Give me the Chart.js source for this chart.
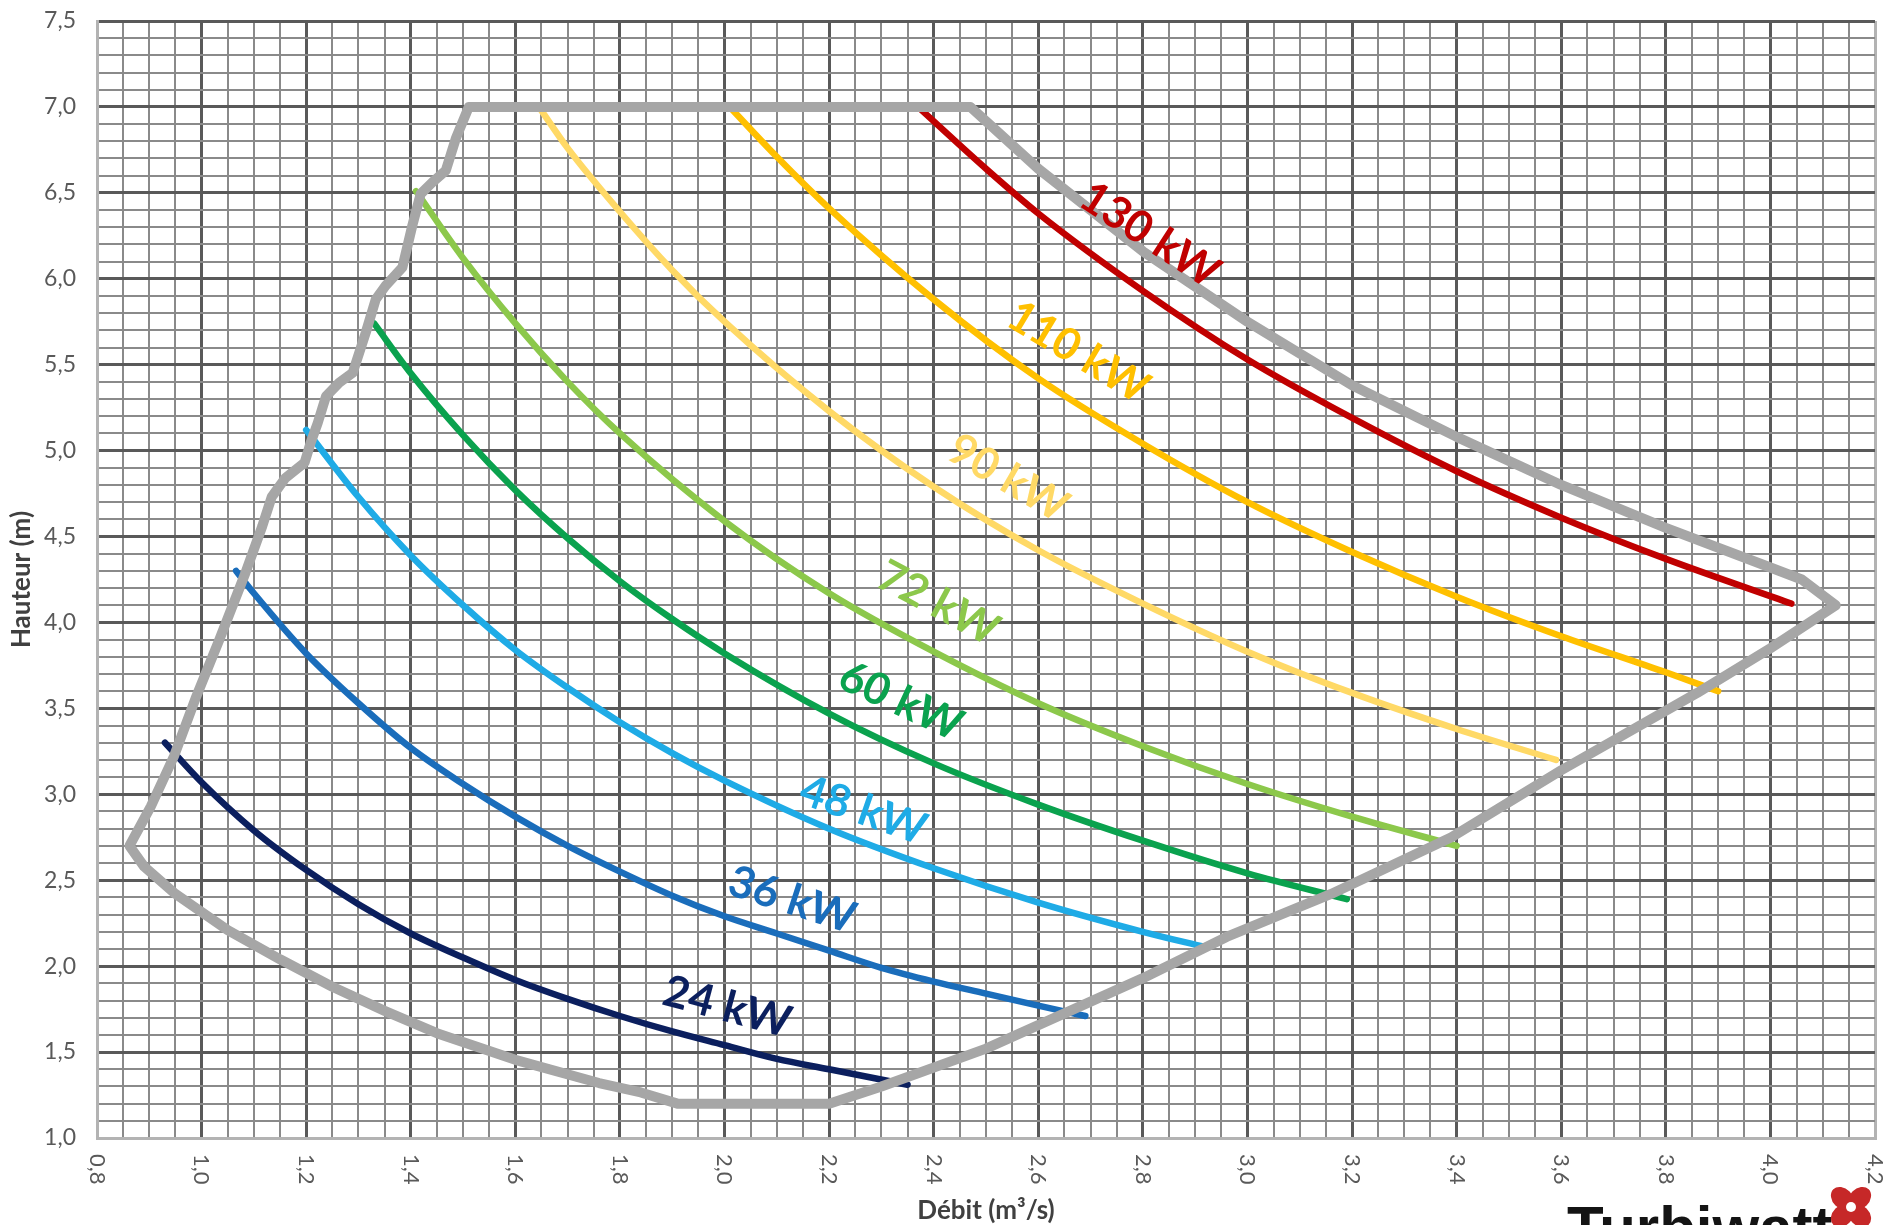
<!DOCTYPE html>
<html>
<head>
<meta charset="utf-8">
<script src="https://cdn.jsdelivr.net/npm/chart.js@4.4.1/dist/chart.umd.min.js"></script>
<style>
  html, body { margin: 0; padding: 0; background: #ffffff; overflow: hidden; }
  canvas { display: block; }
</style>
</head>
<body>
<canvas id="chart" width="1885" height="1225"></canvas>
<script>
// ---- Axis tick labels ----
const flowTicks = [0.8, 1.0, 1.2, 1.4, 1.6, 1.8, 2.0, 2.2, 2.4, 2.6, 2.8, 3.0, 3.2, 3.4, 3.6, 3.8, 4.0, 4.2];
const headTicks = [1.0, 1.5, 2.0, 2.5, 3.0, 3.5, 4.0, 4.5, 5.0, 5.5, 6.0, 6.5, 7.0, 7.5];

// ---- Power curves: flow Q (m3/s) and head H (m) ----
const kw24Q = [0.93, 1.00, 1.10, 1.20, 1.30, 1.40, 1.50, 1.60, 1.70, 1.80, 1.90, 2.00, 2.10, 2.20, 2.35];
const kw24H = [3.30, 3.07, 2.79, 2.56, 2.36, 2.19, 2.05, 1.92, 1.81, 1.71, 1.62, 1.54, 1.46, 1.40, 1.31];

const kw36Q = [1.066, 1.10, 1.20, 1.30, 1.40, 1.50, 1.60, 1.70, 1.80, 1.90, 2.00, 2.10, 2.20, 2.30, 2.40, 2.50, 2.60, 2.69];
const kw36H = [4.30, 4.17, 3.82, 3.53, 3.27, 3.06, 2.87, 2.70, 2.55, 2.41, 2.29, 2.19, 2.09, 1.99, 1.91, 1.84, 1.77, 1.71];

const kw48Q = [1.20, 1.30, 1.40, 1.50, 1.60, 1.70, 1.80, 1.90, 2.00, 2.20, 2.40, 2.60, 2.80, 2.92];
const kw48H = [5.12, 4.73, 4.39, 4.10, 3.84, 3.62, 3.42, 3.24, 3.08, 2.80, 2.57, 2.37, 2.20, 2.11];

const kw60Q = [1.33, 1.40, 1.50, 1.60, 1.70, 1.80, 1.90, 2.00, 2.20, 2.40, 2.60, 2.80, 3.00, 3.19];
const kw60H = [5.74, 5.45, 5.09, 4.77, 4.49, 4.24, 4.02, 3.82, 3.47, 3.18, 2.94, 2.73, 2.54, 2.39];

const kw72Q = [1.41, 1.50, 1.60, 1.70, 1.80, 2.00, 2.20, 2.40, 2.60, 2.80, 3.00, 3.20, 3.40];
const kw72H = [6.51, 6.12, 5.74, 5.40, 5.10, 4.59, 4.17, 3.83, 3.53, 3.28, 3.06, 2.87, 2.70];

const kw90Q = [1.645, 1.70, 1.80, 1.90, 2.00, 2.20, 2.40, 2.60, 2.80, 3.00, 3.20, 3.40, 3.59];
const kw90H = [7.00, 6.76, 6.39, 6.05, 5.75, 5.23, 4.79, 4.42, 4.11, 3.83, 3.59, 3.38, 3.20];

const kw110Q = [2.01, 2.10, 2.20, 2.40, 2.60, 2.80, 3.00, 3.20, 3.40, 3.60, 3.80, 3.90];
const kw110H = [7.00, 6.71, 6.41, 5.88, 5.42, 5.04, 4.70, 4.41, 4.15, 3.92, 3.71, 3.60];

const kw130Q = [2.37, 2.50, 2.60, 2.80, 3.00, 3.20, 3.40, 3.60, 3.80, 4.04];
const kw130H = [7.00, 6.64, 6.38, 5.93, 5.53, 5.19, 4.88, 4.61, 4.37, 4.11];

// ---- Operating envelope (closed outline) ----
const envQ = [2.00, 2.47, 2.60, 2.80, 3.00, 3.20, 3.40, 3.60, 3.80, 4.00, 4.06, 4.125,
              4.00, 3.86, 3.60, 3.39, 3.16, 2.96, 2.80, 2.50, 2.30, 2.20,
              1.91, 1.84, 1.76, 1.60, 1.45, 1.35, 1.25, 1.15, 1.05, 0.95, 0.89, 0.862,
              0.903, 0.947, 0.99, 1.034, 1.084, 1.116, 1.134, 1.16, 1.197, 1.209, 1.222, 1.238,
              1.263, 1.289, 1.314, 1.333, 1.352, 1.384, 1.403, 1.419, 1.441, 1.467, 1.486, 1.511, 2.00];
const envH = [7.00, 7.00, 6.64, 6.16, 5.75, 5.38, 5.08, 4.80, 4.55, 4.32, 4.25, 4.10,
              3.85, 3.59, 3.14, 2.75, 2.42, 2.17, 1.93, 1.52, 1.30, 1.20,
              1.20, 1.265, 1.32, 1.455, 1.61, 1.74, 1.88, 2.04, 2.21, 2.42, 2.58, 2.70,
              2.93, 3.22, 3.57, 3.90, 4.29, 4.56, 4.73, 4.84, 4.93, 5.05, 5.16, 5.317,
              5.395, 5.453, 5.687, 5.88, 5.96, 6.066, 6.31, 6.494, 6.56, 6.63, 6.815, 7.00, 7.00];

// ---- Curve captions: text, anchor (Q, H), angle in degrees ----
const captionText  = ['24 kW', '36 kW', '48 kW', '60 kW', '72 kW', '90 kW', '110 kW', '130 kW'];
const captionQ     = [2.005, 2.129, 2.265, 2.337, 2.408, 2.542, 2.676, 2.813];
const captionH     = [1.761, 2.384, 2.907, 3.542, 4.112, 4.840, 5.573, 6.254];
const captionAngle = [15, 18, 19, 25, 28, 30, 31, 33];

const curveColors = ['#0b1f5e', '#1a6dbb', '#1fabe6', '#0aa24e', '#8cc84b', '#ffd966', '#ffc000', '#c00000'];
const envelopeColor = '#a6a6a6';

const FONT = 'Lato, "Open Sans", "DejaVu Sans", sans-serif';

function fmt(v) { return v.toFixed(1).replace('.', ','); }
function inList(v, list) { return list.some(t => Math.abs(t - v) < 1e-6); }
function gridSteps(min, max, step) {
  const out = [];
  const n = Math.round((max - min) / step);
  for (let i = 0; i <= n; i++) out.push(+(min + i * step).toFixed(4));
  return out;
}
function pairs(qs, hs) { return qs.map((q, i) => ({ x: q, y: hs[i] })); }

const xGrid = gridSteps(0.8, 4.2, 0.05);
const yGrid = gridSteps(1.0, 7.5, 0.1);

const MINOR_COLOR = '#8a8a8a', MAJOR_COLOR = '#595959', EDGE_COLOR = '#b3b3b3';

function gridStyle(majors, edge) {
  return {
    drawTicks: false,
    color: c => {
      const v = c.tick ? c.tick.value : NaN;
      if (edge.some(e => Math.abs(e - v) < 1e-6)) return EDGE_COLOR;
      return inList(v, majors) ? MAJOR_COLOR : MINOR_COLOR;
    },
    lineWidth: c => {
      const v = c.tick ? c.tick.value : NaN;
      return inList(v, majors) ? 3 : 2;
    }
  };
}

const series = [
  [kw24Q, kw24H], [kw36Q, kw36H], [kw48Q, kw48H], [kw60Q, kw60H],
  [kw72Q, kw72H], [kw90Q, kw90H], [kw110Q, kw110H], [kw130Q, kw130H]
];

const datasets = [{
  label: 'Enveloppe',
  data: pairs(envQ, envH),
  showLine: true,
  borderColor: envelopeColor,
  borderWidth: 10,
  borderJoinStyle: 'round',
  borderCapStyle: 'round',
  pointRadius: 0,
  tension: 0,
  fill: false
}].concat(series.map((s, i) => ({
  label: captionText[i],
  data: pairs(s[0], s[1]),
  showLine: true,
  borderColor: curveColors[i],
  borderWidth: 6.5,
  borderCapStyle: 'round',
  pointRadius: 0,
  cubicInterpolationMode: 'monotone',
  fill: false
})));

const captions = {
  id: 'captions',
  afterDatasetsDraw(chart) {
    const { ctx, scales: { x, y } } = chart;
    ctx.save();
    ctx.font = `bold 44px ${FONT}`;
    ctx.textAlign = 'center';
    ctx.textBaseline = 'middle';
    captionText.forEach((t, i) => {
      ctx.save();
      ctx.translate(x.getPixelForValue(captionQ[i]), y.getPixelForValue(captionH[i]));
      ctx.rotate(captionAngle[i] * Math.PI / 180);
      ctx.fillStyle = curveColors[i];
      ctx.fillText(t, 0, 0);
      ctx.restore();
    });
    ctx.restore();
  }
};

const decor = {
  id: 'decor',
  afterDraw(chart) {
    const { ctx, chartArea: a, scales: { x } } = chart;
    ctx.save();
    // flow tick labels, turned a quarter clockwise
    ctx.fillStyle = '#595959';
    ctx.font = `22px ${FONT}`;
    ctx.textAlign = 'left';
    ctx.textBaseline = 'middle';
    flowTicks.forEach(v => {
      ctx.save();
      ctx.translate(x.getPixelForValue(v), a.bottom + 16);
      ctx.rotate(Math.PI / 2);
      ctx.fillText(fmt(v), 0, 0);
      ctx.restore();
    });

    // axis titles
    ctx.fillStyle = '#404040';
    ctx.font = `bold 26px ${FONT}`;
    ctx.textAlign = 'center';
    ctx.textBaseline = 'alphabetic';
    ctx.fillText('Débit (m³/s)', (a.left + a.right) / 2, 1219);
    ctx.save();
    ctx.translate(30, (a.top + a.bottom) / 2);
    ctx.rotate(-Math.PI / 2);
    ctx.fillText('Hauteur (m)', 0, 0);
    ctx.restore();

    // brand mark
    ctx.fillStyle = '#141414';
    ctx.font = 'bold 60px "Liberation Sans", Arial, sans-serif';
    ctx.textAlign = 'left';
    ctx.fillText('Turbiwatt', 1567, 1248);
    const cx = 1851, cy = 1207;
    ctx.fillStyle = '#c62828';
    for (let k = 0; k < 4; k++) {
      ctx.save();
      ctx.translate(cx, cy);
      ctx.rotate(Math.PI / 4 + k * Math.PI / 2);
      ctx.beginPath();
      ctx.ellipse(0, -12, 10, 13, 0, 0, Math.PI * 2);
      ctx.fill();
      ctx.restore();
    }
    ctx.fillStyle = '#ffffff';
    ctx.beginPath();
    ctx.arc(cx, cy, 5, 0, Math.PI * 2);
    ctx.fill();
    ctx.restore();
  }
};

new Chart(document.getElementById('chart'), {
  type: 'scatter',
  data: { datasets },
  options: {
    responsive: false,
    animation: false,
    events: [],
    layout: { padding: { left: 0, right: 10, top: 21, bottom: 0 } },
    plugins: { legend: { display: false }, tooltip: { enabled: false } },
    scales: {
      x: {
        type: 'linear', min: 0.8, max: 4.2,
        afterBuildTicks: s => { s.ticks = xGrid.map(v => ({ value: v })); },
        afterFit: s => { s.height = 87; s.paddingLeft = 0; s.paddingRight = 0; },
        ticks: { display: false, autoSkip: false },
        grid: gridStyle(flowTicks, [0.8, 4.2]),
        border: { display: true, color: EDGE_COLOR, width: 3 }
      },
      y: {
        type: 'linear', min: 1.0, max: 7.5,
        afterBuildTicks: s => { s.ticks = yGrid.map(v => ({ value: v })); },
        afterFit: s => { s.width = 97; s.paddingTop = 0; s.paddingBottom = 0; },
        ticks: {
          autoSkip: false,
          padding: 21,
          color: '#595959',
          font: { family: FONT, size: 23 },
          callback: v => inList(v, headTicks) ? fmt(v) : ''
        },
        grid: gridStyle(headTicks, [1.0]),
        border: { display: true, color: EDGE_COLOR, width: 3 }
      }
    }
  },
  plugins: [captions, decor]
});
</script>
</body>
</html>
